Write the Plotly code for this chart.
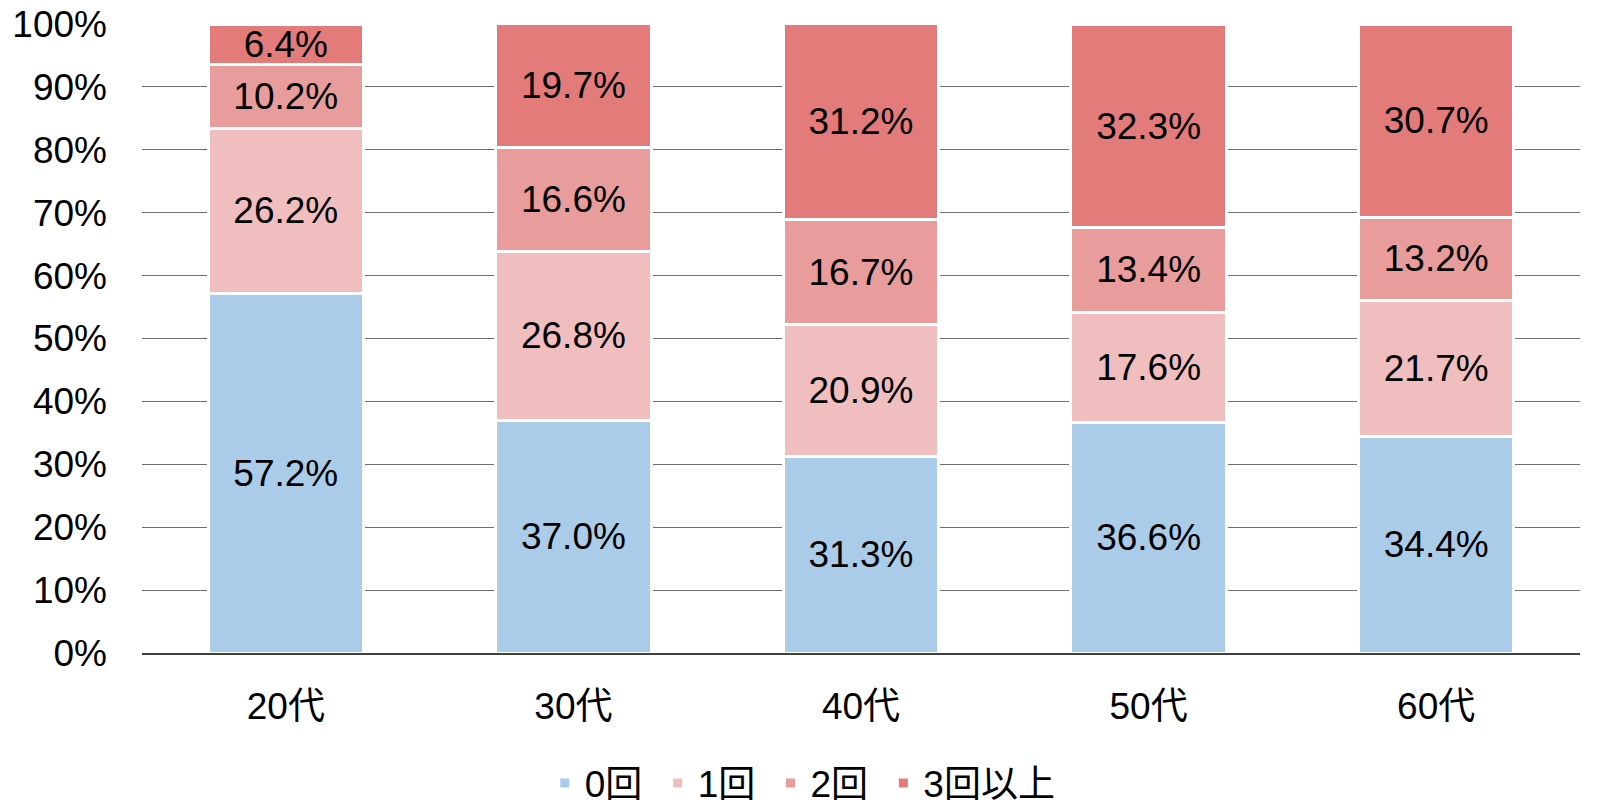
import plotly.graph_objects as go

# 年代別の回数分布 (%)
ages = ["20代", "30代", "40代", "50代", "60代"]
series_names = ["0回", "1回", "2回", "3回以上"]
zero = [57.2, 37.0, 31.3, 36.6, 34.4]
once = [26.2, 26.8, 20.9, 17.6, 21.7]
twice = [10.2, 16.6, 16.7, 13.4, 13.2]
three_plus = [6.4, 19.7, 31.2, 32.3, 30.7]

colors = ["#abcce8", "#f0bebe", "#e89c9c", "#e37b7b"]
FONT = "Liberation Sans, Arial, Noto Sans CJK JP, sans-serif"

fig = go.Figure()
for name, vals, col in zip(series_names, [zero, once, twice, three_plus], colors):
    fig.add_trace(go.Bar(
        x=ages,
        y=vals,
        name=name + "\u00a0",  # a little extra room between legend entries
        marker=dict(color=col, line=dict(color="white", width=3)),
        text=[f"{v:.1f}%" for v in vals],
        textposition="inside",
        insidetextanchor="middle",
        constraintext="none",
        textangle=0,
        textfont=dict(size=37, color="black", family=FONT),
        hoverinfo="skip",
    ))

fig.update_layout(
    barmode="stack",
    bargap=0.46,
    width=1600,
    height=811,
    margin=dict(l=142, r=20, t=24, b=158),
    plot_bgcolor="white",
    paper_bgcolor="white",
    font=dict(family=FONT, size=37, color="black"),
    legend=dict(
        orientation="h",
        x=0.463, xanchor="center",
        yref="container",
        y=0.034, yanchor="middle",
        font=dict(size=37),
        itemwidth=30,
        traceorder="normal",
    ),
    xaxis=dict(
        showgrid=False,
        showline=True,
        linecolor="#404040",
        linewidth=1.5,
        ticks="",
        ticklabelstandoff=20,
        tickfont=dict(size=37),
        automargin=False,
    ),
    yaxis=dict(
        range=[0, 100],
        tickvals=list(range(0, 101, 10)),
        ticktext=[f"{v}%" for v in range(0, 101, 10)],
        showgrid=True,
        gridcolor="#6e6e6e",
        gridwidth=1,
        zeroline=False,
        ticks="",
        ticklabelstandoff=34,
        tickfont=dict(size=37),
        automargin=False,
    ),
)

# drop the default 8px body margin so the figure fills the window exactly
fig.write_html(
    "out.html",
    config={"displayModeBar": False},
    post_script="document.body.style.margin='0';",
)
